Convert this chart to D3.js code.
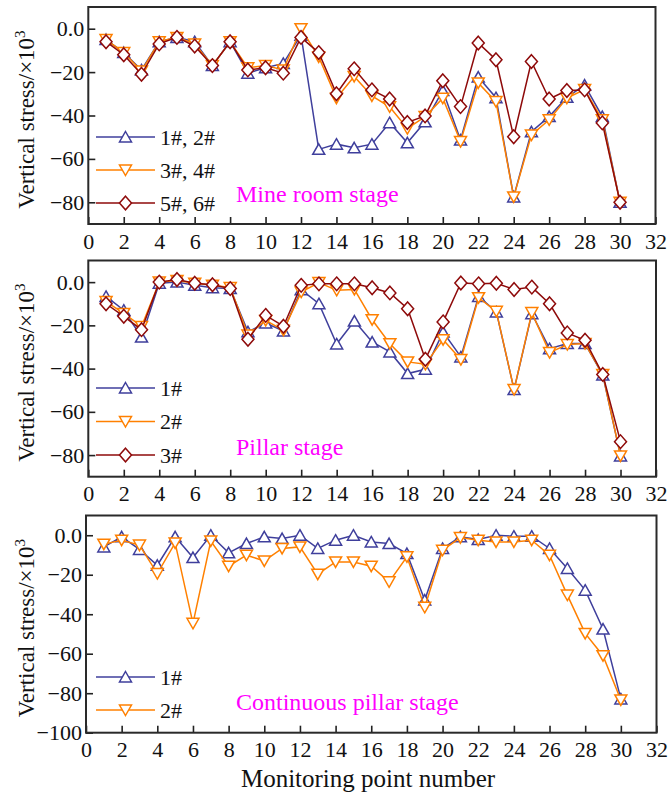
<!DOCTYPE html>
<html><head><meta charset="utf-8">
<script src="https://cdn.jsdelivr.net/npm/d3@7"></script>
<style>body{margin:0;background:#fff}svg{display:block}</style>
</head><body>
<svg id="c" width="670" height="798"></svg>
<script>
// ---- data ----
const points = d3.range(1, 31);
const xTicks = d3.range(0, 33, 2);
const yTicksA = [0, -20, -40, -60, -80];
const yTicksB = [0, -20, -40, -60, -80, -100];

const mineLabels = ["1#, 2#", "3#, 4#", "5#, 6#"];
const mine12 = [-5, -11, -19, -6, -4, -6, -17, -6, -20.5, -18, -16, -3, -55.6, -53.2, -54.9, -53.2, -43.3, -52.6, -42.9, -28.5, -51.3, -22.3, -31.8, -77.5, -47.5, -40.5, -31.6, -26, -40.5, -80];
const mine34 = [-5, -11, -19.5, -6, -4, -7, -17, -6, -18, -17, -19, 0, -13, -32, -22, -31, -36, -46, -40.5, -32, -52, -25, -33.6, -77.5, -49, -42, -32, -28, -42, -80];
const mine56 = [-6, -12, -21, -7, -4, -8, -17, -6, -19, -18, -20.5, -4, -11, -30, -18.5, -28.2, -32.4, -43.2, -40.2, -24, -35.9, -6.6, -14.3, -49.8, -15.1, -32.4, -28.5, -28.2, -43.4, -80];

const pillarLabels = ["1#", "2#", "3#"];
const pillar1 = [-6.6, -13, -25.4, -0.5, 0, -1.5, -2.6, -3, -23, -18.9, -22.6, -3.5, -10, -28.6, -18, -27.7, -32.3, -42.3, -40.3, -23.1, -34.6, -6.6, -13.8, -49.7, -14.6, -30.8, -28.4, -28.4, -43, -80.4];
const pillar2 = [-9, -14.5, -20.5, 0, 0.8, -0.5, -1.5, -2.5, -24.5, -17.7, -22.3, -4.6, -0.2, -3.8, -3.4, -17.4, -28.5, -36.9, -38, -26.6, -35.8, -7.2, -13.5, -49.7, -14.1, -32.6, -28.9, -28.4, -42.7, -80.4];
const pillar3 = [-10, -15.8, -22, 0, 1.2, -0.5, -1.2, -3, -26.4, -15.4, -20.4, -1.5, -0.8, -0.8, -0.8, -2.6, -5, -12.3, -35.7, -18.4, -0.4, -0.8, -0.5, -3.4, -2.3, -10, -23.5, -26.9, -42.7, -73.8];

const contLabels = ["1#", "2#"];
const cont1 = [-5.9, -0.8, -7.2, -15.2, -0.8, -11.3, 0, -8.9, -4.2, -0.8, -1.7, 0, -6.7, -2.5, 0, -3.4, -4.2, -9.3, -32.8, -6.7, -0.8, -2.2, 0, -0.5, -0.5, -6.7, -16.8, -27.8, -47.5, -82.9];
const cont2 = [-4.5, -2.5, -5, -19.4, -3.9, -44.6, -2.9, -15.7, -10.1, -13, -6.7, -5.9, -19.7, -13.5, -13.5, -15.7, -23.6, -10.9, -36.5, -7.6, -1.2, -2.5, -3.4, -3.4, -2.5, -10.1, -30.3, -49.7, -61, -83.4];

const stageNames = ["Mine room stage", "Pillar stage", "Continuous pillar stage"];
const xTitle = "Monitoring point number";

// ---- styling ----
const FONT = "'Liberation Serif','Times New Roman',serif";
const COL = {blue: "#3f3f9c", orange: "#ff8000", red: "#8e0a0a", magenta: "#ff00ff"};
const SHAPES = {
  up: "M0,-5.5L6,5L-6,5Z",
  down: "M0,5.5L6,-5L-6,-5Z",
  diamond: "M0,-6.8L6,0L0,6.8L-6,0Z"
};

const svg = d3.select("#c");

const panels = [
  {x0: 88.3, x1: 655.5, top: 7, bottom: 224, ydom: [-90, 10], yt: yTicksA,
   series: [
     {v: mine12, c: COL.blue, s: "up", name: mineLabels[0]},
     {v: mine34, c: COL.orange, s: "down", name: mineLabels[1]},
     {v: mine56, c: COL.red, s: "diamond", name: mineLabels[2]}],
   legY: [137, 170, 203], note: stageNames[0], noteY: 202},
  {x0: 88.3, x1: 656, top: 260.5, bottom: 476.7, ydom: [-90, 10], yt: yTicksA,
   series: [
     {v: pillar1, c: COL.blue, s: "up", name: pillarLabels[0]},
     {v: pillar2, c: COL.orange, s: "down", name: pillarLabels[1]},
     {v: pillar3, c: COL.red, s: "diamond", name: pillarLabels[2]}],
   legY: [388, 421.5, 455], note: stageNames[1], noteY: 455},
  {x0: 86, x1: 656.5, top: 515.5, bottom: 732.7, ydom: [-100, 10], yt: yTicksB,
   series: [
     {v: cont1, c: COL.blue, s: "up", name: contLabels[0]},
     {v: cont2, c: COL.orange, s: "down", name: contLabels[1]}],
   legY: [677, 710], note: stageNames[2], noteY: 710}
];

const yFmt = d => d === 0 ? "0.0" : d3.format("d")(d);

panels.forEach((p, pi) => {
  const x = d3.scaleLinear().domain([0, 32]).range([p.x0, p.x1]);
  const y = d3.scaleLinear().domain(p.ydom).range([p.bottom, p.top]);
  const g = svg.append("g");

  // x axis
  const gx = g.append("g").attr("transform", `translate(0,${p.bottom})`)
    .call(d3.axisBottom(x).tickValues(xTicks).tickSize(-7).tickPadding(9).tickFormat(d3.format("d")));
  // y axis
  const gy = g.append("g").attr("transform", `translate(${p.x0},0)`)
    .call(d3.axisLeft(y).tickValues(p.yt).tickSize(-7).tickPadding(4).tickFormat(yFmt));
  [gx, gy].forEach(a => {
    a.select(".domain").remove();
    a.selectAll(".tick line").attr("stroke", "#222").attr("stroke-width", 1.6);
    a.selectAll(".tick text").attr("font-family", FONT).attr("font-size", 22).attr("fill", "#111");
  });

  // frame
  g.append("rect").attr("x", p.x0).attr("y", p.top)
    .attr("width", p.x1 - p.x0).attr("height", p.bottom - p.top)
    .attr("fill", "none").attr("stroke", "#2a2a2a").attr("stroke-width", 2);

  // y title
  const cy = (p.top + p.bottom) / 2 + 4;
  const yt = g.append("text").attr("transform", `translate(34,${cy}) rotate(-90)`)
    .attr("text-anchor", "middle").attr("font-family", FONT).attr("font-size", 23).attr("fill", "#111");
  yt.append("tspan").text("Vertical stress/×10");
  yt.append("tspan").attr("font-size", 15).attr("dy", -9).text("3");

  // series
  const line = d3.line().x((d, i) => x(points[i])).y(d => y(d));
  p.series.forEach(s => {
    g.append("path").datum(s.v).attr("d", line).attr("fill", "none")
      .attr("stroke", s.c).attr("stroke-width", 1.5);
    g.selectAll(null).data(s.v).enter().append("path")
      .attr("d", SHAPES[s.s])
      .attr("transform", (d, i) => `translate(${x(points[i])},${y(d)})`)
      .attr("fill", "#fff").attr("stroke", s.c).attr("stroke-width", 1.5);
  });

  // legend
  p.series.forEach((s, i) => {
    const ly = p.legY[i];
    g.append("line").attr("x1", 96).attr("x2", 155).attr("y1", ly).attr("y2", ly)
      .attr("stroke", s.c).attr("stroke-width", 1.5);
    g.append("path").attr("d", SHAPES[s.s]).attr("transform", `translate(125.5,${ly})`)
      .attr("fill", "#fff").attr("stroke", s.c).attr("stroke-width", 1.5);
    g.append("text").attr("x", 160).attr("y", ly).attr("dy", "0.35em")
      .attr("font-family", FONT).attr("font-size", 22).attr("fill", "#111").text(s.name);
  });

  // stage note
  g.append("text").attr("x", 236).attr("y", p.noteY)
    .attr("font-family", FONT).attr("font-size", 24).attr("fill", COL.magenta).text(p.note);
});

// x title
svg.append("text").attr("x", 368).attr("y", 787).attr("text-anchor", "middle")
  .attr("font-family", FONT).attr("font-size", 25).attr("fill", "#111").text(xTitle);
</script>
</body></html>
